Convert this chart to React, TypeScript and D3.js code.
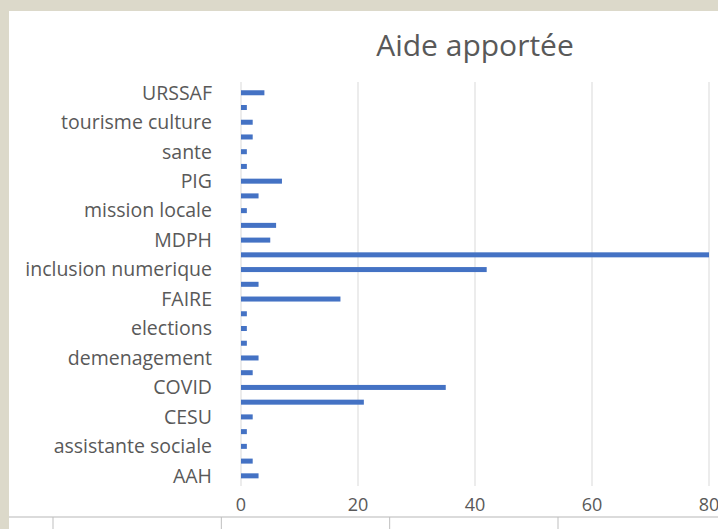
import * as d3 from 'd3'

// --- DATA --- (bottom to top, as in the chart; every other label is hidden by the axis)
const categories = [
  'AAH',
  'administratif',
  'assistante sociale',
  'CAF',
  'CESU',
  'courrier',
  'COVID',
  'CPAM',
  'demenagement',
  'divers',
  'elections',
  'emploi',
  'FAIRE',
  'impots',
  'inclusion numerique',
  'logement',
  'MDPH',
  'messagerie',
  'mission locale',
  'mutuelle',
  'PIG',
  'retraite',
  'sante',
  'titre de sejour',
  'tourisme culture',
  'transport',
  'URSSAF',
]

const values = [3, 2, 1, 1, 2, 21, 35, 2, 3, 1, 1, 1, 17, 3, 42, 80, 5, 6, 1, 3, 7, 1, 1, 2, 2, 1, 4]

const xTicks = [0, 20, 40, 60, 80]

const title = 'Aide apportée'

// --- LAYOUT ---
const W = 718
const H = 529
const FONT = '"Open Sans", "Noto Sans", sans-serif'
const TEXT = '#595959'
const GRID = '#d9d9d9'
const BAR = '#4472c4'
const FRAME = '#dcd9ca'

export default function App() {
  const x = d3.scaleLinear().domain([0, 80]).range([241, 709])

  // top category first on screen
  const y = d3
    .scaleBand<string>()
    .domain([...categories].reverse())
    .range([85.4, 483.2])
    .paddingInner(0.66)
    .paddingOuter(0.33)

  const rows = categories.map((c, i) => ({ cat: c, value: values[i], labeled: i % 2 === 0 }))

  // ticks of the chart below, only its top edge is visible
  const lowerX = d3.scaleLinear().domain([0, 3]).range([53, 558])
  const lowerTicks = lowerX.ticks(3)

  return (
    <svg
      width={W}
      height={H}
      style={{ position: 'absolute', left: 0, top: 0, background: '#fff' }}
    >
      {/* beige frame */}
      <rect x={0} y={0} width={W} height={11} fill={FRAME} />
      <rect x={0} y={0} width={9} height={H} fill={FRAME} />

      {/* title */}
      <text
        x={(x(0) + x(80)) / 2}
        y={56}
        textAnchor="middle"
        fontFamily={FONT}
        fontSize={30}
        fill={TEXT}
      >
        {title}
      </text>

      {/* gridlines */}
      {xTicks.map((t) => (
        <line key={t} x1={x(t)} x2={x(t)} y1={82} y2={486} stroke={GRID} strokeWidth={1} />
      ))}

      {/* bars */}
      {rows.map((r) => (
        <rect
          key={r.cat}
          x={x(0)}
          y={y(r.cat)}
          width={x(r.value) - x(0)}
          height={y.bandwidth()}
          fill={BAR}
        />
      ))}

      {/* category labels */}
      {rows
        .filter((r) => r.labeled)
        .map((r) => (
          <text
            key={r.cat}
            x={212}
            y={(y(r.cat) ?? 0) + y.bandwidth() / 2}
            dy="0.35em"
            textAnchor="end"
            fontFamily={FONT}
            fontSize={19.5}
            fill={TEXT}
          >
            {r.cat}
          </text>
        ))}

      {/* value axis labels */}
      {xTicks.map((t) => (
        <text
          key={t}
          x={x(t)}
          y={511}
          textAnchor="middle"
          fontFamily={FONT}
          fontSize={18}
          fill={TEXT}
        >
          {t}
        </text>
      ))}

      {/* top edge of the next chart */}
      <line x1={9} x2={W} y1={517} y2={517} stroke="#cfcfcf" strokeWidth={1.5} />
      {lowerTicks.map((t) => (
        <line key={t} x1={lowerX(t)} x2={lowerX(t)} y1={517} y2={H} stroke="#bfbfbf" strokeWidth={1} />
      ))}
    </svg>
  )
}
